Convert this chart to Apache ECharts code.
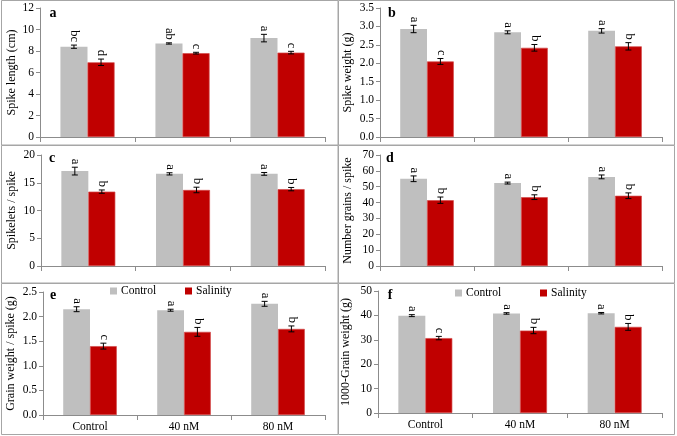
<!DOCTYPE html>
<html><head><meta charset="utf-8">
<script src="https://cdn.jsdelivr.net/npm/echarts@6/dist/echarts.min.js"></script>
<style>html,body{margin:0;padding:0;background:#fff}#c{width:677px;height:436px}</style>
</head><body><div id="c"></div>
<script>
// ---------- data ----------
const categories = ['Control', '40 nM', '80 nM'];
const seriesNames = ['Control', 'Salinity'];

// a: Spike length (cm)
const spikeLenCtrl = [8.4, 8.7, 9.2];
const spikeLenCtrlErr = [0.15, 0.06, 0.35];
const spikeLenSal = [6.95, 7.8, 7.85];
const spikeLenSalErr = [0.3, 0.08, 0.12];
const spikeLenCtrlLet = ['bc', 'ab', 'a'];
const spikeLenSalLet = ['d', 'c', 'c'];

// b: Spike weight (g)
const spikeWtCtrl = [2.93, 2.84, 2.88];
const spikeWtCtrlErr = [0.1, 0.04, 0.06];
const spikeWtSal = [2.05, 2.42, 2.46];
const spikeWtSalErr = [0.08, 0.09, 0.1];
const spikeWtCtrlLet = ['a', 'a', 'a'];
const spikeWtSalLet = ['c', 'b', 'b'];

// c: Spikelets / spike
const spikeletsCtrl = [17.1, 16.6, 16.6];
const spikeletsCtrlErr = [0.7, 0.2, 0.25];
const spikeletsSal = [13.4, 13.7, 13.85];
const spikeletsSalErr = [0.3, 0.5, 0.3];
const spikeletsCtrlLet = ['a', 'a', 'a'];
const spikeletsSalLet = ['b', 'b', 'b'];

// d: Number grains / spike
const grainsCtrl = [55.0, 52.3, 56.2];
const grainsCtrlErr = [1.8, 0.6, 1.2];
const grainsSal = [41.5, 43.4, 44.3];
const grainsSalErr = [2.0, 1.5, 1.8];
const grainsCtrlLet = ['a', 'a', 'a'];
const grainsSalLet = ['b', 'b', 'b'];

// e: Grain weight / spike (g)
const grainWtCtrl = [2.15, 2.13, 2.26];
const grainWtCtrlErr = [0.05, 0.02, 0.05];
const grainWtSal = [1.40, 1.69, 1.75];
const grainWtSalErr = [0.06, 0.09, 0.06];
const grainWtCtrlLet = ['a', 'a', 'a'];
const grainWtSalLet = ['c', 'b', 'b'];

// f: 1000-Grain weight (g)
const tgwCtrl = [39.9, 40.8, 40.9];
const tgwCtrlErr = [0.4, 0.3, 0.3];
const tgwSal = [30.7, 33.8, 35.3];
const tgwSalErr = [0.7, 1.3, 1.4];
const tgwCtrlLet = ['a', 'a', 'a'];
const tgwSalLet = ['c', 'b', 'b'];

const yNames = ['Spike length (cm)', 'Spike weight (g)', 'Spikelets / spike', 'Number grains / spike', 'Grain weight / spike (g)', '1000-Grain weight (g)'];
const panelLetters = ['a', 'b', 'c', 'd', 'e', 'f'];
const yMax = [12, 3.5, 20, 70, 2.5, 50];
const yStep = [2, 0.5, 5, 10, 0.5, 10];
const yDecimals = [0, 1, 0, 0, 1, 0];

const panelData = [
  [spikeLenCtrl, spikeLenCtrlErr, spikeLenSal, spikeLenSalErr, spikeLenCtrlLet, spikeLenSalLet],
  [spikeWtCtrl, spikeWtCtrlErr, spikeWtSal, spikeWtSalErr, spikeWtCtrlLet, spikeWtSalLet],
  [spikeletsCtrl, spikeletsCtrlErr, spikeletsSal, spikeletsSalErr, spikeletsCtrlLet, spikeletsSalLet],
  [grainsCtrl, grainsCtrlErr, grainsSal, grainsSalErr, grainsCtrlLet, grainsSalLet],
  [grainWtCtrl, grainWtCtrlErr, grainWtSal, grainWtSalErr, grainWtCtrlLet, grainWtSalLet],
  [tgwCtrl, tgwCtrlErr, tgwSal, tgwSalErr, tgwCtrlLet, tgwSalLet]
];

// ---------- layout / style ----------
const grids = [
  {left: 40, top: 8, width: 285, height: 129},
  {left: 380, top: 8, width: 282, height: 129},
  {left: 41, top: 155, width: 284, height: 111},
  {left: 380, top: 155, width: 282, height: 111},
  {left: 43, top: 292, width: 282, height: 123},
  {left: 378, top: 291, width: 284, height: 122}
];
const nameGaps = [22, 26, 23, 26, 26, 26];
const letterPos = [[53, 13], [392, 13], [52, 158], [390, 158], [53, 295], [390, 295]];
const frames = [[1.5, 0.5, 336.5, 144.5], [338.5, 0.5, 336, 144.5], [1.5, 145.5, 336.5, 137.5], [338.5, 145.5, 336, 137.5], [1.5, 283.5, 336.5, 151], [338.5, 283.5, 336, 151]];
const FONT = '"Liberation Serif", "Times New Roman", serif';
const GRAY = '#BFBFBF', RED = '#C00000', AXIS = '#8c8c8c';
const CAT_GAP = 0.43;

const chart = echarts.init(document.getElementById('c'), null, {renderer: 'canvas'});

const xAxes = [], yAxes = [], series = [];
grids.forEach((g, i) => {
  xAxes.push({
    type: 'category', gridIndex: i, data: categories,
    axisLine: {lineStyle: {color: AXIS}},
    axisTick: {show: true, length: 5, lineStyle: {color: AXIS}},
    axisLabel: {show: i >= 4, color: '#000', fontFamily: FONT, fontSize: 11.5, margin: 6}
  });
  yAxes.push({
    type: 'value', gridIndex: i, min: 0, max: yMax[i], interval: yStep[i],
    name: yNames[i], nameLocation: 'middle', nameGap: nameGaps[i],
    nameTextStyle: {color: '#000', fontFamily: FONT, fontSize: 12},
    axisLine: {show: true, lineStyle: {color: AXIS}},
    axisTick: {show: true, length: 4, lineStyle: {color: AXIS}},
    splitLine: {show: false},
    axisLabel: {color: '#000', fontFamily: FONT, fontSize: 11.5, margin: 6,
      formatter: v => v.toFixed(yDecimals[i])}
  });
  const d = panelData[i];
  series.push({
    name: seriesNames[0], type: 'bar', xAxisIndex: i, yAxisIndex: i, data: d[0],
    barGap: '0%', barCategoryGap: (CAT_GAP * 100) + '%',
    itemStyle: {color: GRAY}, silent: true
  });
  series.push({
    name: seriesNames[1], type: 'bar', xAxisIndex: i, yAxisIndex: i, data: d[2],
    barGap: '0%', barCategoryGap: (CAT_GAP * 100) + '%',
    itemStyle: {color: RED, borderColor: '#d24a4a', borderWidth: 0.7}, silent: true
  });
  [0, 1].forEach(side => {
    const vals = d[side * 2], errs = d[side * 2 + 1], lets = d[4 + side];
    series.push({
      type: 'custom', xAxisIndex: i, yAxisIndex: i, silent: true, z: 10,
      data: vals.map((v, k) => [k, v, errs[k]]),
      renderItem: (params, api) => {
        const k = api.value(0), v = api.value(1), e = api.value(2);
        const band = api.size([1, 0])[0];
        const barW = band * (1 - CAT_GAP) / 2;
        const cx = api.coord([k, v])[0] + (side === 0 ? -barW / 2 : barW / 2);
        const yt = api.coord([k, v + e])[1];
        const yb = api.coord([k, v - e])[1];
        const cap = 3;
        return {
          type: 'group',
          children: [
            {type: 'line', shape: {x1: cx, y1: yt, x2: cx, y2: yb}, style: {stroke: '#000', lineWidth: 1}},
            {type: 'line', shape: {x1: cx - cap, y1: yt, x2: cx + cap, y2: yt}, style: {stroke: '#000', lineWidth: 1}},
            {type: 'line', shape: {x1: cx - cap, y1: yb, x2: cx + cap, y2: yb}, style: {stroke: '#000', lineWidth: 1}},
            {type: 'text', x: cx + 0.5, y: yt - 3, rotation: -Math.PI / 2,
              style: {text: lets[params.dataIndex], fill: '#000', font: '12.5px ' + FONT, align: 'right', verticalAlign: 'middle'}}
          ]
        };
      }
    });
  });
});

const legends = [
  {left: 110, top: 285, data: ['Control']},
  {left: 185, top: 285, data: ['Salinity']},
  {left: 455, top: 287, data: ['Control']},
  {left: 540, top: 287, data: ['Salinity']}
].map(l => Object.assign({
  orient: 'horizontal', icon: 'rect', itemWidth: 7, itemHeight: 7, itemGap: 10, padding: 0,
  itemStyle: {borderWidth: 0},
  textStyle: {color: '#000', fontFamily: FONT, fontSize: 11.5, padding: [0, 0, 0, -1]}, selectedMode: false
}, l));

const graphics = [];
frames.forEach(f => graphics.push({type: 'rect', shape: {x: f[0], y: f[1], width: f[2], height: f[3]},
  style: {fill: 'none', stroke: '#a6a6a6', lineWidth: 1}, silent: true, z: 0}));
letterPos.forEach((p, i) => graphics.push({type: 'text', x: p[0], y: p[1],
  style: {text: panelLetters[i], fill: '#000', font: 'bold 14px ' + FONT, align: 'center', verticalAlign: 'middle'}, z: 100}));

chart.setOption({
  animation: false,
  backgroundColor: '#fff',
  grid: grids.map(g => Object.assign({containLabel: false}, g)),
  xAxis: xAxes, yAxis: yAxes, series: series, legend: legends, graphic: graphics
});
</script></body></html>
